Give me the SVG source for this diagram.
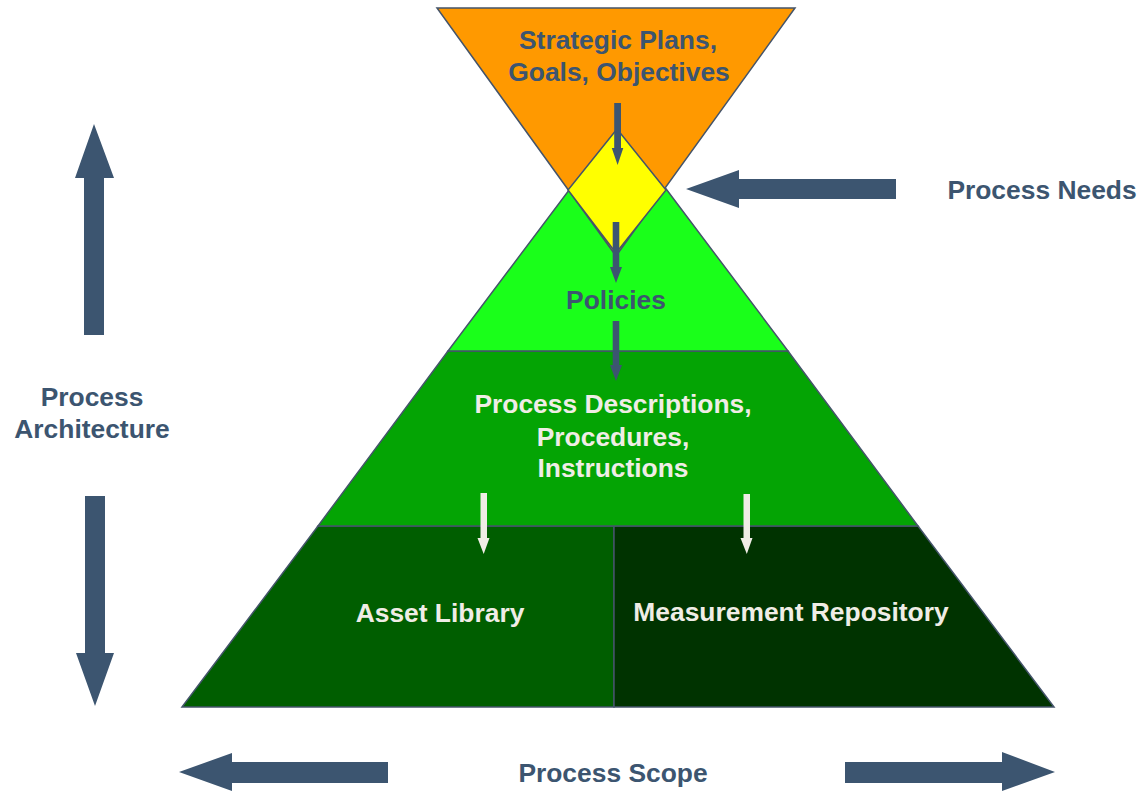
<svg xmlns="http://www.w3.org/2000/svg" width="1142" height="791" viewBox="0 0 1142 791">
<style>
.shape{stroke:#44546a;stroke-width:1.5;stroke-linejoin:miter}
.arr{fill:#3c5570}
.warr{fill:#f0ede6}
text{font-family:"Liberation Sans",Arial,sans-serif;font-weight:bold;font-size:26.4px;text-anchor:middle}
.dk{fill:#3c5570}
.lt{fill:#f0ede6}
</style>
<rect width="1142" height="791" fill="#ffffff"/>
<g id="asset-library">
<polygon class="shape" fill="#005e00" points="318,526 614,526 614,707 182,707"/>
<text class="lt" x="440" y="622">Asset Library</text>
</g>
<g id="measurement-repository">
<polygon class="shape" fill="#003300" points="614,526 918,526 1054,707 614,707"/>
<text class="lt" x="791" y="621">Measurement Repository</text>
</g>
<g id="process-descriptions">
<polygon class="shape" fill="#04a404" points="448,351 788,351 918,526 318,526"/>
<text class="lt" x="613" y="413">Process Descriptions,</text>
<text class="lt" x="613" y="446">Procedures,</text>
<text class="lt" x="613" y="477">Instructions</text>
</g>
<g id="policies">
<polygon class="shape" fill="#1aff1a" points="618,125 788,351 448,351"/>
<text class="dk" x="616" y="309">Policies</text>
</g>
<g id="strategic-plans">
<polygon class="shape" fill="#ff9900" points="437,8 795,8 616,256"/>
<text class="dk" x="618" y="49">Strategic Plans,</text>
<text class="dk" x="619" y="81">Goals, Objectives</text>
</g>
<g id="process-needs-junction">
<polygon class="shape" fill="#ffff00" points="617,129 666,190 616,253 568,190"/>
</g>
<g id="process-needs">
<text class="dk" x="1042" y="199">Process Needs</text>
</g>
<g id="process-architecture">
<text class="dk" x="92" y="406">Process</text>
<text class="dk" x="92" y="438">Architecture</text>
</g>
<g id="process-scope">
<text class="dk" x="613" y="782">Process Scope</text>
</g>
<g id="connectors">
<polygon class="arr" points="614.2,103 621,103 621,148 623.3,148 617.6,165 611.8,148 614.2,148"/>
<polygon class="arr" points="612.7,222 619.3,222 619.3,267 622,267 616,283 610,267 612.7,267"/>
<polygon class="arr" points="612.7,321 619.3,321 619.3,365 622,365 616,381 610,365 612.7,365"/>
<polygon class="warr" points="480.5,493 487,493 487,538 489.5,538 483.7,554 477.5,538 480.5,538"/>
<polygon class="warr" points="743.5,494 750,494 750,538 752.5,538 746.8,554 740.5,538 743.5,538"/>
<polygon class="arr" points="896,179 739,179 739,170 686,189 739,208 739,199 896,199"/>
<polygon class="arr" points="84,335 84,178 75,178 94,124 114,178 104,178 104,335"/>
<polygon class="arr" points="85,496 105,496 105,653 114,653 95,706 76,653 85,653"/>
<polygon class="arr" points="388,762 232,762 232,753 179,772 232,791 232,783 388,783"/>
<polygon class="arr" points="845,762 1002,762 1002,752 1055,772 1002,791 1002,783 845,783"/>
</g>
</svg>
